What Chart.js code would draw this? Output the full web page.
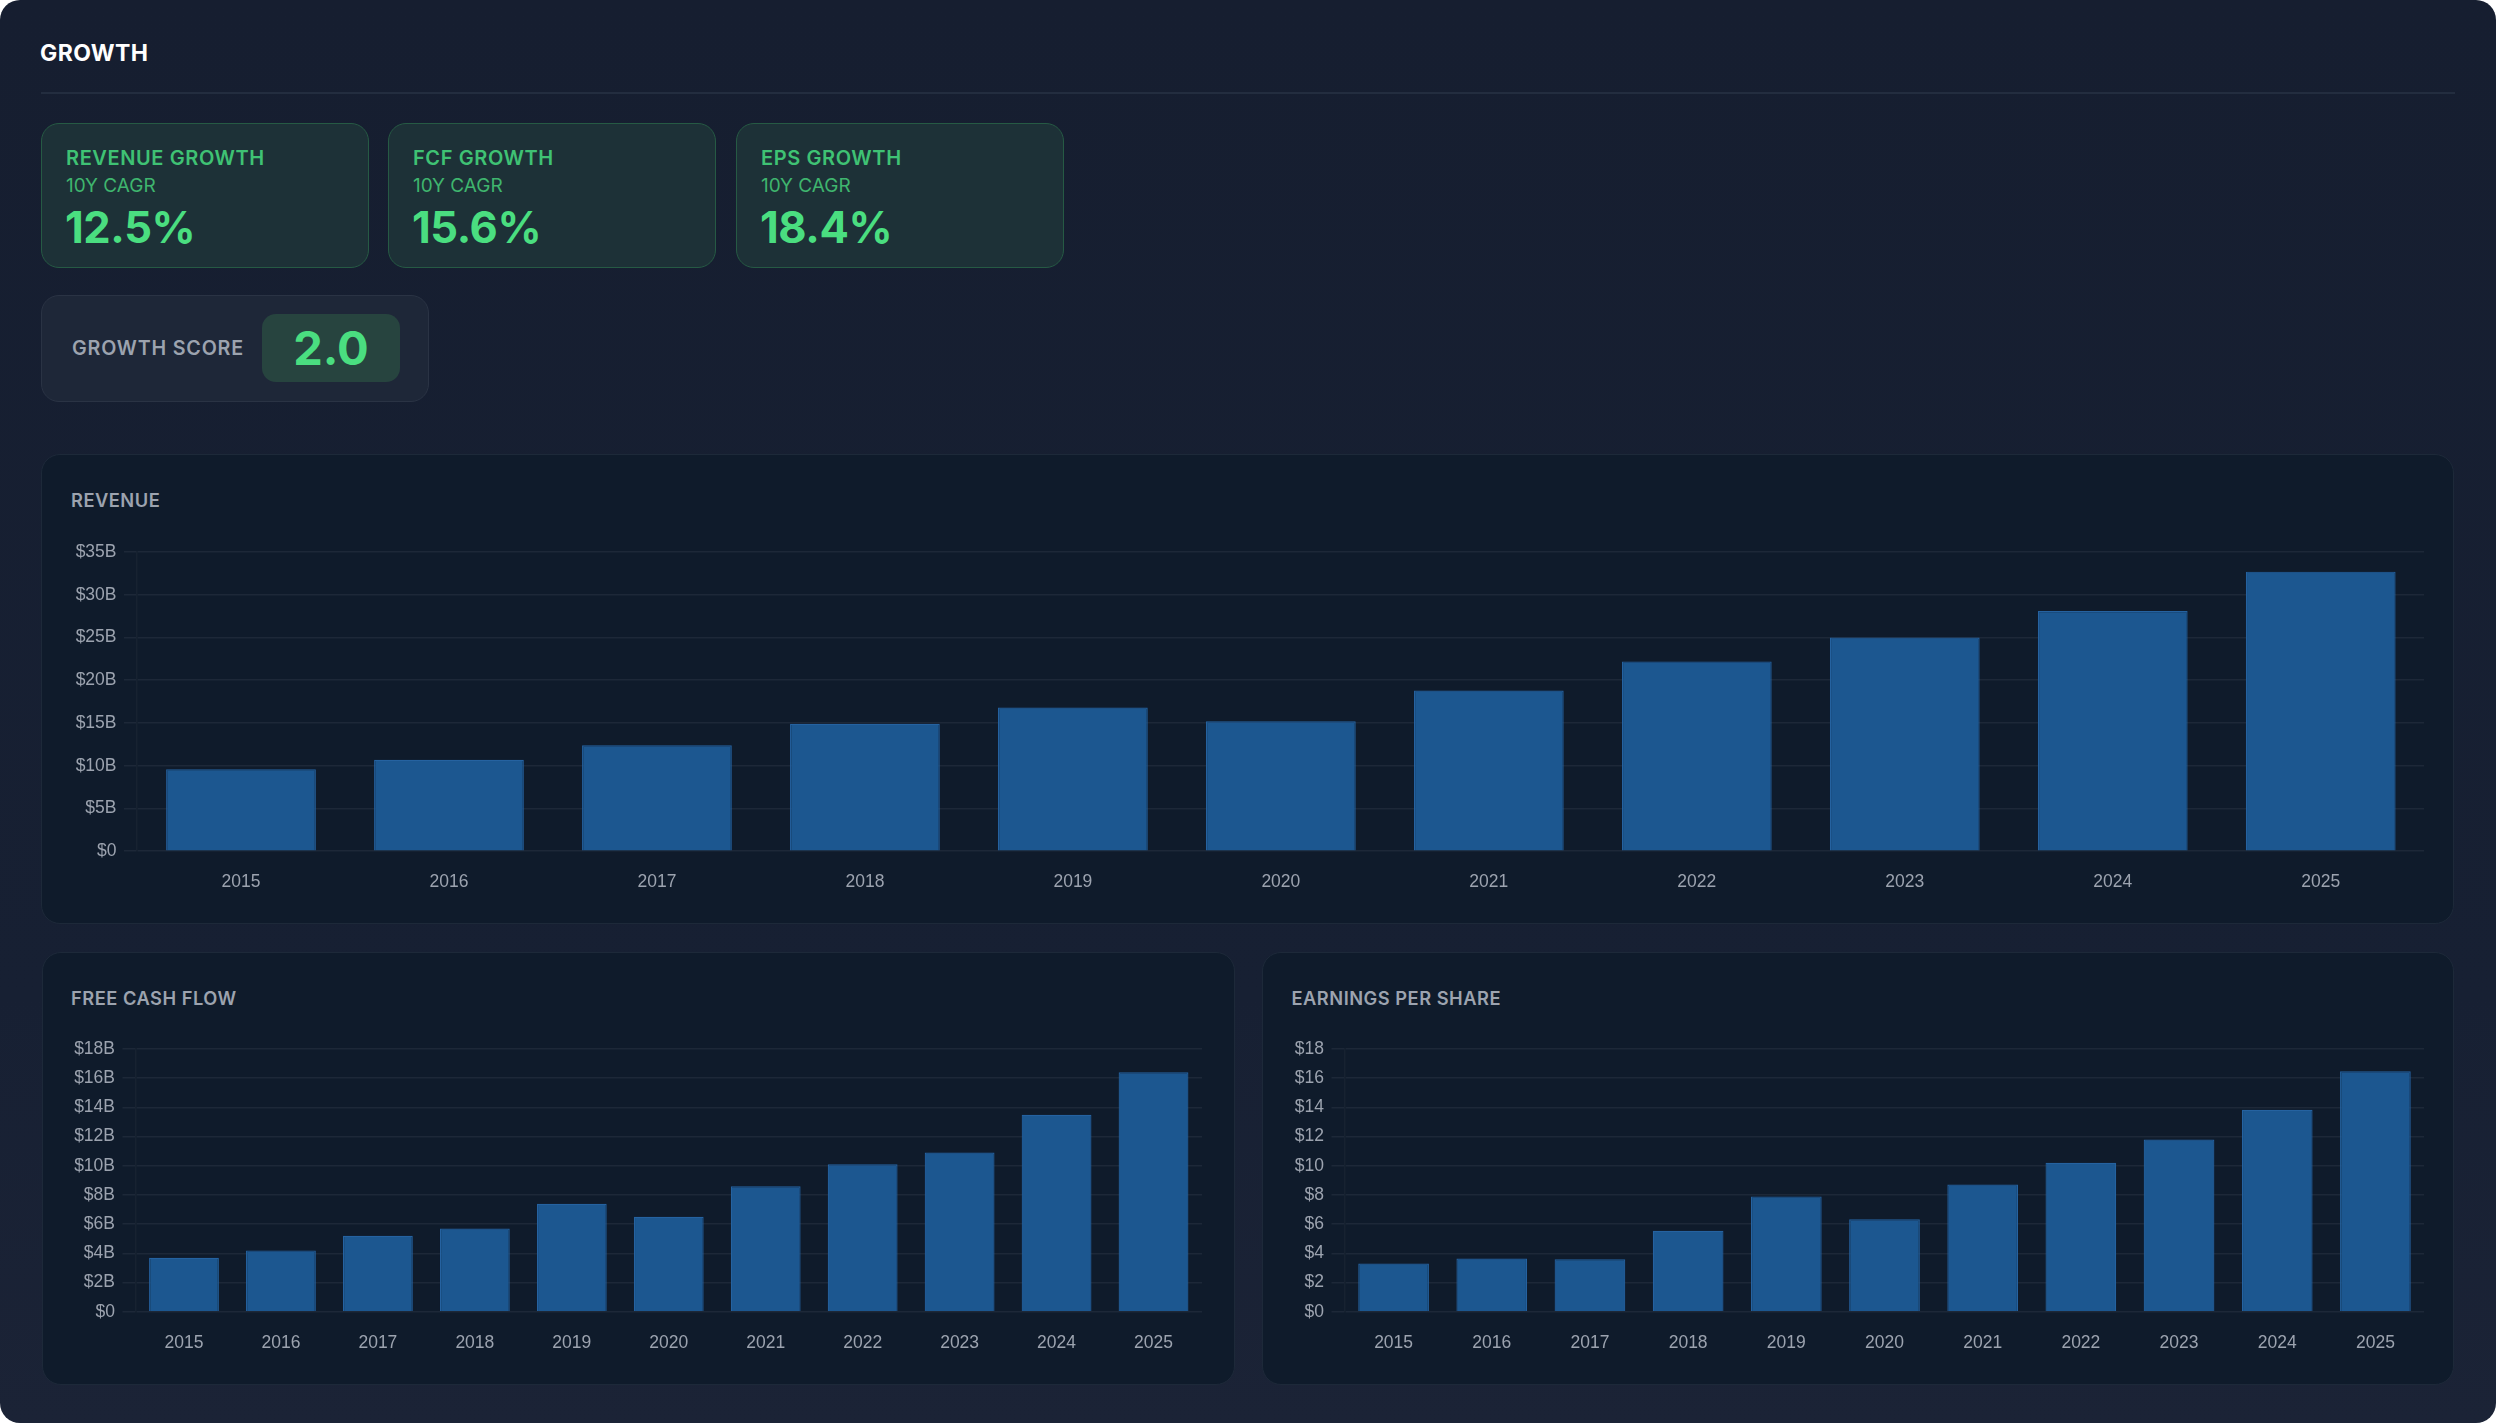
<!DOCTYPE html>
<html>
<head>
<meta charset="utf-8">
<script src="https://cdn.jsdelivr.net/npm/chart.js@4.4.1/dist/chart.umd.min.js"></script>
<style>
  html, body { margin: 0; padding: 0; background: #ffffff; }
  body { width: 2500px; height: 1426px; position: relative; overflow: hidden; font-family: Inter, "Noto Sans", sans-serif; }
  .outer { position: absolute; left: 0; top: 0; width: 2496px; height: 1423px; border-radius: 20px;
           background: linear-gradient(180deg, #161e30 0%, #172033 70%, #1b2336 100%); }
  .abs { position: absolute; line-height: 1; white-space: nowrap; }
  .sep { position: absolute; left: 41px; top: 92px; width: 2414px; height: 1.6px; background: #232d3f; }
  .card { position: absolute; top: 123px; width: 326px; height: 143px; border-radius: 18px;
          background: #1d3137; border: 1.6px solid #265a44; }
  .ct { position: absolute; left: 24px; top: 24px; font-size: 20px; font-weight: 600; color: #3fc274; letter-spacing: 0.6px; line-height: 1; white-space: nowrap; }
  .cs { position: absolute; left: 24px; top: 52px; font-size: 19px; font-weight: 400; color: #3fb56e; line-height: 1; white-space: nowrap; }
  .cv { position: absolute; left: 23px; top: 81.5px; font-size: 43.5px; font-weight: 700; color: #4ade80; letter-spacing: -0.4px; line-height: 1; white-space: nowrap; }
  .score { position: absolute; left: 41px; top: 295px; width: 386px; height: 105px; border-radius: 18px;
           background: #1e2738; border: 1.6px solid #2a3344; }
  .panel { position: absolute; border-radius: 19px; background: #0f1b2b; border: 1.6px solid #1d2939; box-sizing: border-box; }
  .ptitle { position: absolute; font-size: 18.3px; font-weight: 600; color: #9ca3af; letter-spacing: 0.5px; line-height: 1; white-space: nowrap; }
  .cw { position: absolute; }
</style>
</head>
<body>
<div class="outer"></div>
<div class="abs" style="left:40px; top:42px; font-size:23px; font-weight:700; color:#ffffff; letter-spacing:0.4px;">GROWTH</div>
<div class="sep"></div>

<div class="card" style="left:41px;">
  <div class="ct">REVENUE GROWTH</div>
  <div class="cs">10Y CAGR</div>
  <div class="cv">12.5%</div>
</div>
<div class="card" style="left:388px;">
  <div class="ct">FCF GROWTH</div>
  <div class="cs">10Y CAGR</div>
  <div class="cv">15.6%</div>
</div>
<div class="card" style="left:736px;">
  <div class="ct">EPS GROWTH</div>
  <div class="cs">10Y CAGR</div>
  <div class="cv">18.4%</div>
</div>

<div class="score">
  <div class="abs" style="left:30px; top:43px; font-size:19.7px; font-weight:600; color:#9ca3af; letter-spacing:0.8px;">GROWTH SCORE</div>
  <div style="position:absolute; left:220px; top:18px; width:138px; height:68px; border-radius:14px; background:#27443f;">
    <div class="abs" style="left:0; width:138px; text-align:center; top:10px; font-size:47px; font-weight:700; color:#4ade80;">2.0</div>
  </div>
</div>

<div class="panel" style="left:41px; top:454px; width:2413px; height:470px;"></div>
<div class="ptitle" style="left:71px; top:491px;">REVENUE</div>
<div class="cw" style="left:70.6px; top:533.8px; width:2353.7px; height:358.7px;"><canvas id="rev"></canvas></div>

<div class="panel" style="left:41.5px; top:951.5px; width:1193px; height:433.5px;"></div>
<div class="ptitle" style="left:71px; top:989px;">FREE CASH FLOW</div>
<div class="cw" style="left:71px; top:1031px; width:1131px; height:322.2px;"><canvas id="fcf"></canvas></div>

<div class="panel" style="left:1262px; top:951.5px; width:1192px; height:433.5px;"></div>
<div class="ptitle" style="left:1291.5px; top:989px;">EARNINGS PER SHARE</div>
<div class="cw" style="left:1291.5px; top:1031px; width:1132.5px; height:322.2px;"><canvas id="eps"></canvas></div>

<script>
// ---- Data ----
const years = ['2015','2016','2017','2018','2019','2020','2021','2022','2023','2024','2025'];
const revenueB = [9.6, 10.7, 12.4, 14.9, 16.8, 15.2, 18.8, 22.2, 25.0, 28.1, 32.7];
const fcfB = [3.7, 4.2, 5.2, 5.7, 7.4, 6.5, 8.6, 10.1, 10.9, 13.5, 16.4];
const epsUSD = [3.3, 3.65, 3.6, 5.55, 7.9, 6.33, 8.72, 10.2, 11.8, 13.84, 16.48];
const revenueAxis = { max: 35, step: 5, fmt: v => v === 0 ? '$0' : '$' + v + 'B' };
const fcfAxis = { max: 18, step: 2, fmt: v => v === 0 ? '$0' : '$' + v + 'B' };
const epsAxis = { max: 18, step: 2, fmt: v => '$' + v };

const BAR_FILL = '#1c5790';
const BAR_BORDER = '#2562a0';
const GRID = '#1d2838';
const TICK = '#9ca3af';
const FONT = { family: '"Liberation Sans", Arial, sans-serif', size: 17.5 };

function makeChart(id, values, axis, yWidth) {
  new Chart(document.getElementById(id), {
    type: 'bar',
    data: {
      labels: years,
      datasets: [{
        data: values,
        backgroundColor: BAR_FILL,
        borderColor: BAR_BORDER,
        borderWidth: 1.2,
        borderSkipped: 'bottom',
        barPercentage: 0.9,
        categoryPercentage: 0.8
      }]
    },
    options: {
      responsive: true,
      maintainAspectRatio: false,
      animation: false,
      devicePixelRatio: 1,
      layout: { padding: 0 },
      plugins: { legend: { display: false }, tooltip: { enabled: false }, title: { display: false } },
      scales: {
        x: {
          grid: { display: false, drawTicks: true, tickLength: 13 },
          border: { display: false },
          ticks: { color: TICK, font: FONT, padding: 7.5, maxRotation: 0 },
          afterFit: s => { s.height = 41.5; }
        },
        y: {
          min: 0, max: axis.max,
          grid: { color: GRID, lineWidth: 1.5, tickLength: 13, drawTicks: true },
          border: { display: true, color: '#172231', width: 1.5 },
          ticks: { color: TICK, font: FONT, padding: 7.5, stepSize: axis.step, callback: axis.fmt },
          afterFit: s => { s.width = yWidth; }
        }
      }
    }
  });
}

makeChart('rev', revenueB, revenueAxis, 66);
makeChart('fcf', fcfB, fcfAxis, 64.5);
makeChart('eps', epsUSD, epsAxis, 52.5);
</script>
</body>
</html>
